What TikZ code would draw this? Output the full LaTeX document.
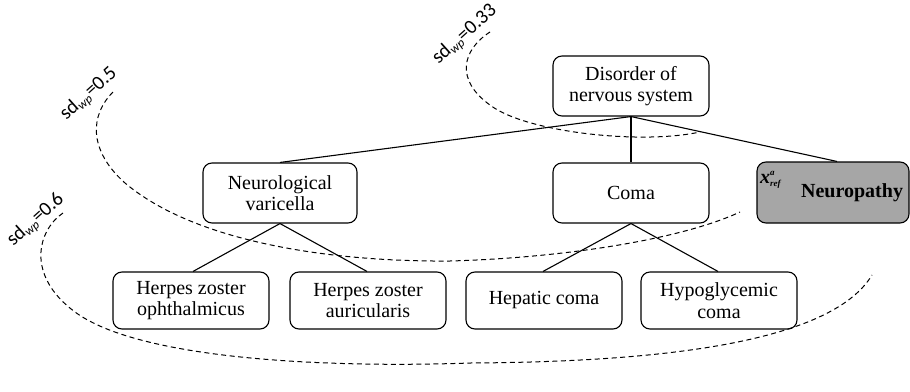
\documentclass[tikz,border=0pt]{standalone}
\usepackage{fontspec}
\setmainfont{Liberation Serif}
\newfontfamily\labelfont{Carlito}
\newcommand{\sdwp}[1]{\rotatebox{42}{\labelfont\fontsize{20}{20}\selectfont
  sd\raisebox{-3pt}{\fontsize{12.5}{12.5}\selectfont\itshape wp}=#1}}
\begin{document}
\begin{tikzpicture}[x=1pt,y=-1pt,
  concept/.style={draw, line width=1.1pt, rounded corners=9pt, inner sep=0pt,
    align=center, font=\fontsize{20}{21.5}\selectfont},
  refbox/.style={concept, fill=refgray},
  link/.style={line width=1.1pt},
  trunk/.style={line width=1.9pt},
  band/.style={line width=1pt, dash pattern=on 5pt off 3.5pt},
  sdlabel/.style={inner sep=0pt}]
\definecolor{refgray}{RGB}{166,166,166}
\useasboundingbox (0,0) rectangle (910,391);

% concept hierarchy
\node[concept, minimum width=156pt, minimum height=60pt] (dis) at (631,86) {Disorder of\\nervous system};
\node[concept, minimum width=154pt, minimum height=60pt] (var) at (280,193) {Neurological\\varicella};
\node[concept, minimum width=156pt, minimum height=60pt] (coma) at (631,193) {Coma};
\node[refbox, minimum width=152pt, minimum height=61pt, font=\fontsize{20}{20.5}\selectfont\bfseries,
      text width=140pt, align=right] (neu) at (833,192.5) {Neuropathy\hspace*{3pt}};
\node[anchor=base west, inner sep=0pt, font=\fontsize{20}{20}\selectfont\bfseries\itshape] (xref) at (760,183)
  {x\rlap{\raisebox{8pt}{\fontsize{9}{9}\selectfont a}}\raisebox{-3.5pt}{\fontsize{9}{9}\selectfont ref}};
\node[concept, minimum width=156pt, minimum height=57pt] (hzo) at (191,300.5) {Herpes zoster\\ophthalmicus};
\node[concept, minimum width=156pt, minimum height=57pt] (hza) at (368,300.5) {Herpes zoster\\auricularis};
\node[concept, minimum width=156pt, minimum height=57pt] (hep) at (544,300.5) {Hepatic coma};
\node[concept, minimum width=156pt, minimum height=57pt] (hyp) at (719,300.5) {Hypoglycemic\\coma};

% is-a links
\draw[link] (dis.south) -- (var.north);
\draw[trunk] (dis.south) -- (coma.north);
\draw[link] (dis.south) -- ([xshift=4pt]neu.north);
\draw[link] (var.south) -- ([xshift=2pt]hzo.north);
\draw[link] (var.south) -- ([xshift=-1pt]hza.north);
\draw[link] (coma.south) -- ([xshift=-1pt]hep.north);
\draw[link] (coma.south) -- ([xshift=-1pt]hyp.north);

% similarity bands around the reference concept
\coordinate (a0) at (490,32);
\coordinate (a1) at (700,132);
\draw[band] (a0) .. controls (462,50) and (455,80) .. (490,105)
                 .. controls (525,132) and (640,145) .. (a1);
\coordinate (b0) at (113,92);
\coordinate (b1) at (740,212);
\draw[band] (b0) .. controls (90,115) and (88,150) .. (125,183)
                 .. controls (195,242) and (330,262) .. (450,261)
                 .. controls (560,258) and (680,240) .. (b1);
\coordinate (c0) at (63,213);
\coordinate (c1) at (872,275);
\draw[band] (c0) .. controls (38,230) and (25,275) .. (75,312)
                 .. controls (140,360) and (330,368) .. (470,363)
                 .. controls (650,362) and (830,345) .. (c1);

\node[sdlabel] (l33) at (465,35) {\sdwp{0.33}};
\node[sdlabel] (l50) at (89,94) {\sdwp{0.5}};
\node[sdlabel] (l60) at (36,220) {\sdwp{0.6}};
\end{tikzpicture}
\end{document}
